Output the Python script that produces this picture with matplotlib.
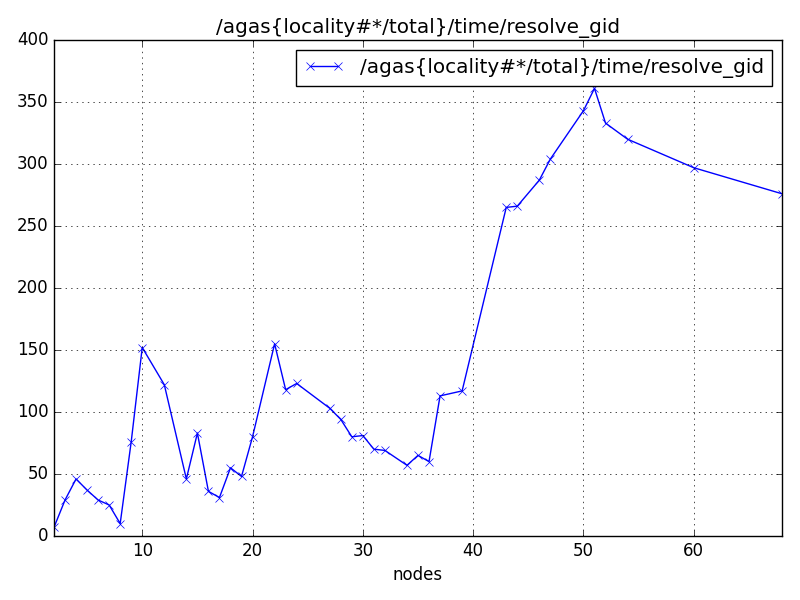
import matplotlib
matplotlib.use("Agg")
import matplotlib.pyplot as plt

plt.style.use("classic")

nodes = [2, 3, 4, 5, 6, 7, 8, 9, 10, 12, 14, 15, 16, 17, 18, 19, 20, 22, 23, 24,
         27, 28, 29, 30, 31, 32, 34, 35, 36, 37, 39, 43, 44, 46, 47, 50, 51, 52,
         54, 60, 68]
resolve_gid = [7, 29, 46, 37, 29, 25, 10, 76, 152, 122, 46, 83, 36, 31, 55, 48,
               80, 155, 118, 123, 103, 94, 80, 81, 70, 69, 57, 65, 60, 113, 117,
               265, 266, 287, 304, 343, 361, 333, 320, 297, 276]

name = "/agas{locality#*/total}/time/resolve_gid"

fig, ax = plt.subplots(figsize=(8, 6), dpi=100)
fig.subplots_adjust(left=0.0675, right=0.9775, top=0.9333, bottom=0.1067)
ax.plot(nodes, resolve_gid, "bx-", label=name)
ax.set_xlim(2, 68)
ax.set_ylim(0, 400)
ax.set_xlabel("nodes")
ax.set_title(name)
ax.grid(True)
ax.legend(loc="upper right")
fig.savefig("out.png", dpi=100)
